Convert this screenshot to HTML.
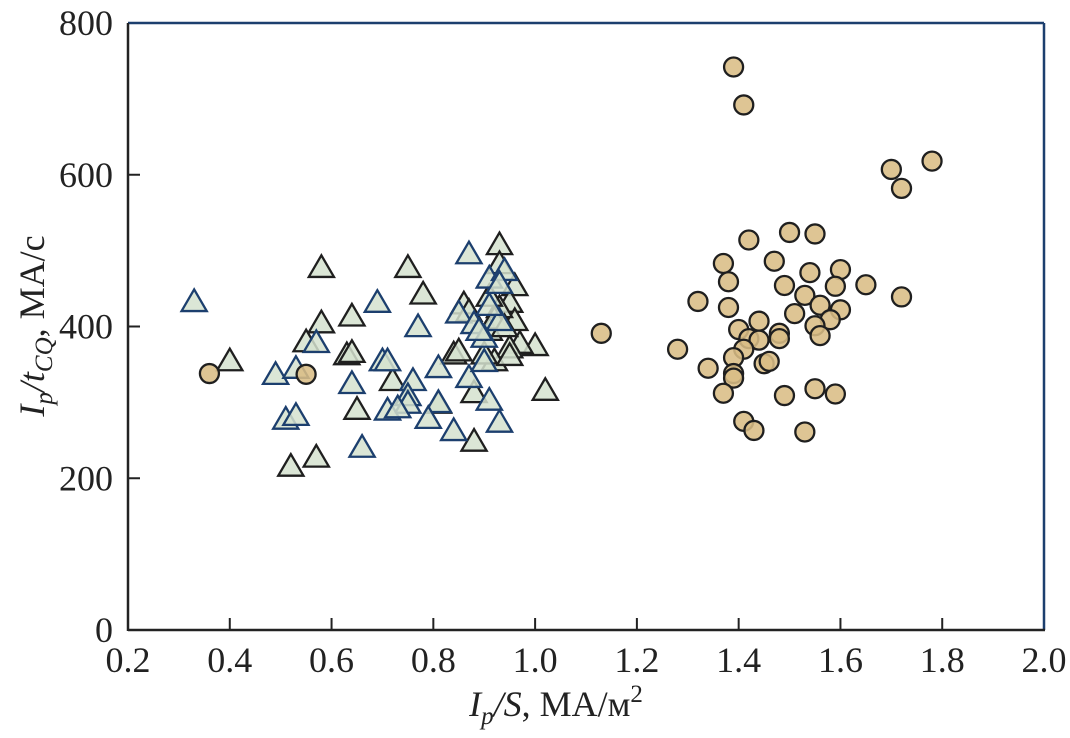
<!DOCTYPE html>
<html><head><meta charset="utf-8"><style>
html,body{margin:0;padding:0;background:#fff;}
svg{display:block;font-family:"Liberation Serif",serif;}
</style></head><body>
<svg id="chart" width="1070" height="738" viewBox="0 0 1070 738" xmlns="http://www.w3.org/2000/svg" style="position:absolute;left:0;top:0">
<g id="marks"></g>
<g id="axes"></g>
</svg>
<script>
const xTicks = [0.2,0.4,0.6,0.8,1.0,1.2,1.4,1.6,1.8,2.0];
const xTickLabels = ["0.2","0.4","0.6","0.8","1.0","1.2","1.4","1.6","1.8","2.0"];
const yTicks = [0,200,400,600,800];
const yTickLabels = ["0","200","400","600","800"];
const circleX = [1.39,1.41,1.70,1.72,1.78,1.42,1.50,1.55,1.37,1.47,1.38,1.54,1.60,1.49,1.59,1.65,1.72,1.32,1.38,1.53,1.56,1.60,1.51,1.58,1.55,1.56,1.44,1.40,1.42,1.44,1.48,1.48,1.41,1.39,1.45,1.46,1.39,1.39,1.34,1.28,1.13,1.37,1.49,1.55,1.59,1.41,1.43,1.53,0.36,0.55];
const circleY = [742,692,607,582,618,514,524,522,483,486,459,471,475,454,453,455,439,433,425,441,428,422,417,409,401,388,407,396,384,382,391,384,370,359,351,354,338,332,345,370,391,312,309,318,311,275,263,261,338,337];
const blackTriX = [0.58,0.75,0.78,0.93,0.40,0.58,0.64,0.55,0.63,0.64,0.72,0.65,0.57,0.52,0.88,0.88,1.02,1.00,0.84,0.85,0.86,0.96,0.95,0.96,0.97,0.95,0.92,0.90,0.93,0.81,0.95,0.91,0.93,0.91,0.92,0.94,0.87];
const blackTriY = [478,478,443,508,355,405,414,380,363,366,329,291,228,216,249,313,316,375,364,368,430,454,432,408,378,372,355,364,483,299,362,395,425,440,410,400,420];
const blueTriX = [0.33,0.87,0.69,0.77,0.57,0.49,0.53,0.64,0.70,0.71,0.76,0.81,0.87,0.75,0.75,0.71,0.73,0.81,0.79,0.84,0.91,0.93,0.66,0.51,0.53,0.90,0.85,0.88,0.91,0.94,0.93,0.90,0.91,0.89,0.93];
const blueTriY = [433,496,432,400,379,337,345,325,355,355,329,346,333,309,299,290,293,300,279,263,303,274,241,278,283,354,418,404,464,474,408,386,428,395,457];

const PL=128,PR=1044,PT=23,PB=630;
const sx=v=>PL+(v-0.2)/1.8*(PR-PL);
const sy=v=>PB-v/800*(PB-PT);
const NS="http://www.w3.org/2000/svg";
function mk(tag,attrs,parent){const e=document.createElementNS(NS,tag);for(const k in attrs)e.setAttribute(k,attrs[k]);parent.appendChild(e);return e;}
const marksG=document.getElementById('marks');
const axesG=document.getElementById('axes');

function tri(cx,cy,stroke,name){
  const s=12;
  const p=mk('polygon',{points:`${cx},${cy-s} ${cx-s*1.05},${cy+s*0.8} ${cx+s*1.05},${cy+s*0.8}`,fill:'#d5e2cf','fill-opacity':'0.85',stroke:stroke,'stroke-width':2.3},marksG);
  
  
}
for(let i=0;i<blackTriX.length;i++) tri(sx(blackTriX[i]),sy(blackTriY[i]),'#1f1f1f','triangle-black-point');
for(let i=0;i<blueTriX.length;i++) tri(sx(blueTriX[i]),sy(blueTriY[i]),'#1c3f6e','triangle-blue-point');
for(let i=0;i<circleX.length;i++){
  const c=mk('circle',{cx:sx(circleX[i]),cy:sy(circleY[i]),r:9.5,fill:'#d9bd85','fill-opacity':'0.88',stroke:'#1f1f1f','stroke-width':2.3},marksG);
  
  
}

const frameTop=mk('line',{x1:PL,y1:PT,x2:PR,y2:PT,stroke:'#1c3f6e','stroke-width':2.5},axesG);


const frameRight=mk('line',{x1:PR,y1:PT,x2:PR,y2:PB,stroke:'#1c3f6e','stroke-width':2.5},axesG);


const xAxisLine=mk('line',{x1:PL,y1:PB,x2:PR+1,y2:PB,stroke:'#222','stroke-width':2.5},axesG);


const yAxisLine=mk('line',{x1:PL,y1:PT,x2:PL,y2:PB+1,stroke:'#222','stroke-width':2.5},axesG);



xTicks.forEach((v,i)=>{
  const x=sx(v);
  if(i>0&&i<xTicks.length-1){const t=mk('line',{x1:x,y1:PB,x2:x,y2:PB-12,stroke:'#222','stroke-width':2},axesG);
  
  }
  const tx=mk('text',{x:x,y:672,'text-anchor':'middle','font-size':36,fill:'#222'},axesG);
  tx.textContent=xTickLabels[i];
  
  
});
yTicks.forEach((v,i)=>{
  const y=sy(v);
  if(i>0&&i<yTicks.length-1){const t=mk('line',{x1:PL,y1:y,x2:PL+12,y2:y,stroke:'#222','stroke-width':2},axesG);
  
  }
  const tx=mk('text',{x:113,y:y+12,'text-anchor':'end','font-size':36,fill:'#222'},axesG);
  tx.textContent=yTickLabels[i];
  
  
});
</script>
<svg style="position:absolute;left:0;top:0" width="1070" height="738">
<text x="556" y="716" text-anchor="middle" font-family="Liberation Serif, serif" font-size="36" fill="#222"><tspan font-style="italic">I</tspan><tspan font-style="italic" font-size="25" dy="8">p</tspan><tspan dy="-8" font-style="italic">/S</tspan>, МА/м<tspan font-size="25" dy="-14">2</tspan></text>
<text transform="translate(44,326) rotate(-90)" text-anchor="middle" font-family="Liberation Serif, serif" font-size="36" fill="#222"><tspan font-style="italic">I</tspan><tspan font-style="italic" font-size="25" dy="8">p</tspan><tspan dy="-8" font-style="italic">/t</tspan><tspan font-style="italic" font-size="25" dy="8">CQ</tspan><tspan dy="-8">, МА/с</tspan></text>
</svg>
</body></html>
